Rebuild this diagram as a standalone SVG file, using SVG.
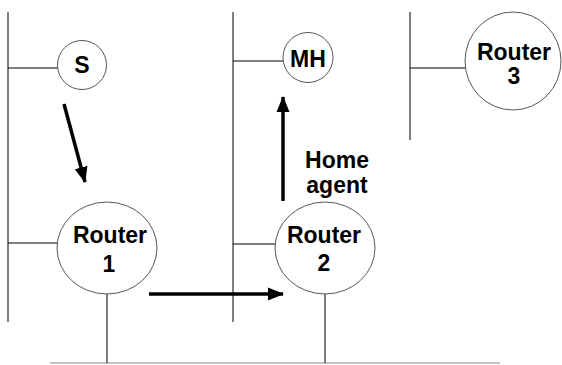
<svg xmlns="http://www.w3.org/2000/svg" width="562" height="365" viewBox="0 0 562 365">
<defs>
<style>
.bus{stroke:#000;stroke-width:1;fill:none}
.link{stroke:#000;stroke-width:1;fill:none}
.node{fill:#fff;stroke:#555;stroke-width:1}
.lbl{font-family:"Liberation Sans",Arial,sans-serif;font-weight:bold;font-size:23px;fill:#000;text-anchor:middle}
.flow{stroke:#000;stroke-width:3.5;fill:none}
</style>
<marker id="ah" markerUnits="userSpaceOnUse" markerWidth="16" markerHeight="16" viewBox="0 0 16 16" refX="15" refY="8" orient="auto">
<path d="M0,1.5 L16,8 L0,14.5 z" fill="#000"/>
</marker>
</defs>
<rect width="562" height="365" fill="#fff"/>
<g id="networks">
<line class="bus" x1="8" y1="12" x2="8" y2="322"/>
<line class="bus" x1="233" y1="12" x2="233" y2="322"/>
<line class="bus" x1="410" y1="12" x2="410" y2="140"/>
<line x1="50" y1="363" x2="500" y2="363" stroke="#888" stroke-width="1"/>
</g>
<g id="links">
<line class="link" x1="8" y1="68" x2="58" y2="68"/>
<line class="link" x1="233" y1="61" x2="283" y2="61"/>
<line class="link" x1="410" y1="68" x2="466" y2="68"/>
<line class="link" x1="8" y1="243" x2="57" y2="243"/>
<line class="link" x1="233" y1="244" x2="275" y2="244"/>
<line class="link" x1="107" y1="294" x2="107" y2="363"/>
<line class="link" x1="325" y1="294" x2="325" y2="363"/>
</g>
<g id="S">
<circle class="node" cx="82" cy="65" r="24.5"/>
<text class="lbl" x="82" y="73">S</text>
</g>
<g id="MH">
<circle class="node" cx="308" cy="57.5" r="25"/>
<text class="lbl" x="308" y="67">MH</text>
</g>
<g id="Router3">
<ellipse class="node" cx="513" cy="61" rx="48" ry="49"/>
<text class="lbl" x="514" y="60">Router</text>
<text class="lbl" x="514" y="84">3</text>
</g>
<g id="Router1">
<ellipse class="node" cx="107" cy="248" rx="50" ry="46"/>
<text class="lbl" x="110" y="243">Router</text>
<text class="lbl" x="109" y="272">1</text>
</g>
<g id="Router2">
<ellipse class="node" cx="325" cy="248" rx="50" ry="46"/>
<text class="lbl" x="324" y="243">Router</text>
<text class="lbl" x="324" y="271">2</text>
</g>
<g id="HomeAgentLabel">
<text class="lbl" x="337" y="168">Home</text>
<text class="lbl" x="337" y="193">agent</text>
</g>
<g id="connectors">
<line class="flow" x1="64" y1="104" x2="85" y2="182" marker-end="url(#ah)"/>
<line class="flow" x1="149" y1="294" x2="283" y2="294" marker-end="url(#ah)"/>
<line class="flow" x1="283" y1="201" x2="283" y2="97" marker-end="url(#ah)"/>
</g>
</svg>
